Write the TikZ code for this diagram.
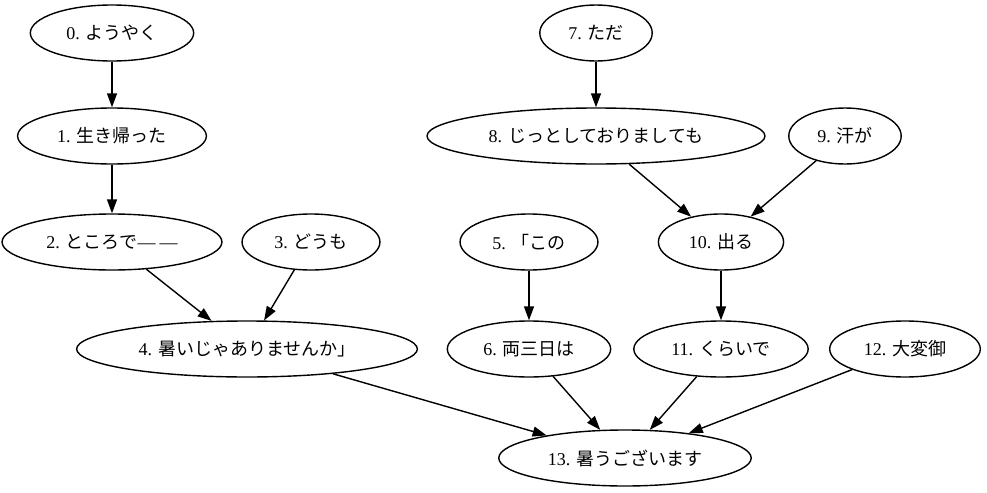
\documentclass[tikz,border=0pt]{standalone}
\usepackage{fontspec}
\setmainfont{Liberation Serif}
\newfontfamily\jp{Noto Sans CJK JP}
\usetikzlibrary{shapes.geometric, arrows.meta}

\begin{document}
\begin{tikzpicture}[x=0.5pt, y=-0.5pt, line width=0.7pt,
    word/.style={draw, ellipse, inner xsep=6pt, inner ysep=2pt,
        minimum height=28pt, minimum width=42pt, font=\fontsize{9}{11}\selectfont},
    >={Triangle[length=7pt,width=5pt]}]
    \useasboundingbox (0,0) rectangle (987,493);

    % Words
    \node[word] (w0) at (112,33) {0. \jp ようやく};
    \node[word] (w1) at (112,136) {1. \jp 生き帰った};
    \node[word] (w2) at (112,242) {2. \jp ところで{\rmfamily —\kern2pt—}};
    \node[word] (w3) at (311,242) {3. \jp どうも};
    \node[word] (w4) at (247,349) {4. \jp 暑いじゃありませんか」};
    \node[word] (w5) at (529,242) {5. \jp 「この};
    \node[word] (w6) at (529,349) {6. \jp 両三日は};
    \node[word] (w7) at (596,33) {7. \jp ただ};
    \node[word] (w8) at (596,136) {8. \jp じっとしておりましても};
    \node[word] (w9) at (845,136) {9. \jp 汗が};
    \node[word] (w10) at (721,242) {10. \jp 出る};
    \node[word] (w11) at (721,349) {11. \jp くらいで};
    \node[word] (w12) at (905,349) {12. \jp 大変御};
    \node[word] (w13) at (625,458) {13. \jp 暑うございます};

    % Links
    \foreach \a/\b in {0/1, 1/2, 2/4, 3/4, 5/6, 7/8, 8/10, 9/10, 10/11,
                       4/13, 6/13, 11/13, 12/13} {
        \draw[->] (w\a) -- (w\b);
    }
\end{tikzpicture}
\end{document}
